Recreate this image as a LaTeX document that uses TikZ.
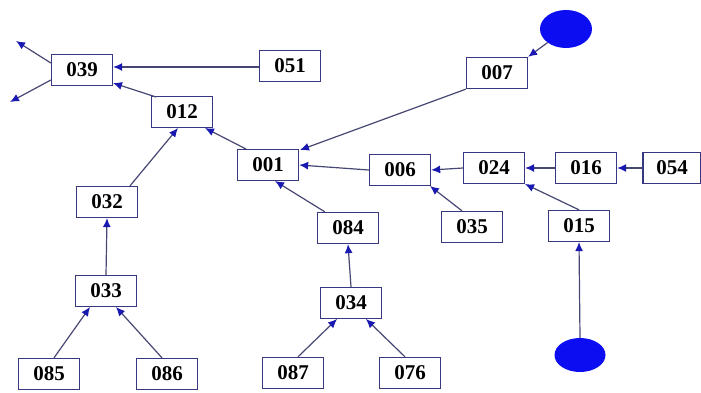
\documentclass[tikz,border=0pt]{standalone}
\usepackage{fontspec}
\setmainfont{Liberation Serif}
\usetikzlibrary{arrows.meta,shapes.geometric}
\definecolor{edgec}{rgb}{0.28,0.28,0.45}
\definecolor{boxc}{rgb}{0.22,0.22,0.5}
\definecolor{tipc}{rgb}{0.1,0.1,0.7}
\definecolor{blobc}{rgb}{0.05,0.05,0.95}
\tikzset{
  bx/.style={draw=boxc, line width=1.3pt, fill=white, minimum width=61pt, minimum height=31pt,
    inner sep=0pt, font=\fontsize{21}{24}\selectfont\bfseries},
  blob/.style={ellipse, fill=blobc, draw=none},
  ar/.style={draw=edgec, line width=1.2pt, -{Latex[length=9pt,width=8pt,color=tipc]}},
}
\begin{document}
\begin{tikzpicture}[x=1pt,y=-1pt]
\useasboundingbox (0,0) rectangle (701,393);
\fill[white] (0,0) rectangle (701,393);
\node[bx] (n039) at (82,70) {039};
\node[bx] (n051) at (290,66) {051};
\node[bx] (n012) at (182,112) {012};
\node[bx] (n001) at (268,165) {001};
\node[bx] (n007) at (497,73) {007};
\node[blob, minimum width=52pt, minimum height=38pt] (et) at (566,29) {};
\node[bx] (n006) at (400,170) {006};
\node[bx] (n024) at (494,168) {024};
\node[bx] (n016) at (586,168) {016};
\node[bx, minimum width=58pt] (n054) at (672,168) {054};
\node[bx] (n035) at (472,227) {035};
\node[bx] (n015) at (579,226) {015};
\node[blob, minimum width=51pt, minimum height=34pt] (eb) at (580,355) {};
\node[bx] (n084) at (348,228) {084};
\node[bx] (n032) at (107,202) {032};
\node[bx] (n033) at (106,291) {033};
\node[bx] (n034) at (351,303) {034};
\node[bx] (n085) at (49,374) {085};
\node[bx] (n086) at (167,374) {086};
\node[bx] (n087) at (293,373) {087};
\node[bx] (n076) at (410,373) {076};
\coordinate (f1) at (16,41);
\coordinate (f2) at (10,102);
\draw[ar] (n039.west |- 0,63) -- (f1);
\draw[ar] (n039.west |- 0,80) -- (f2);
\draw[ar] (n051.west |- 0,67) -- (n039.east |- 0,67);
\draw[ar] (156,97) -- (113,83);
\draw[ar] (n001) ++(-22,-16) coordinate (a1) -- (205,128);
\draw[ar] (n032.north -| 130,0) -- (178,128);
\draw[ar] (n007.south west) -- (300,150);
\draw[ar] (et) -- (n007.north east);
\draw[ar] (n006.west) -- (n001.east);
\draw[ar] (n084.north west) ++(8,0) -- (275,181);
\draw[ar] (n024.west) -- (n006.east);
\draw[ar] (n016.west) -- (n024.east);
\draw[ar] (n054.west) -- (n016.east);
\draw[ar] (n035.north) ++(-10,0) -- (430,186);
\draw[ar] (n015.north) -- (525,184);
\draw[ar] (eb.north) -- (n015.south);
\draw[ar] (n033.north) -- (n032.south);
\draw[ar] (n034.north) -- (n084.south);
\draw[ar] (n085.north) ++(5,0) -- (90,307);
\draw[ar] (n086.north) ++(-5,0) -- (116,307);
\draw[ar] (n087.north) ++(5,0) -- (337,319);
\draw[ar] (n076.north) ++(-5,0) -- (366,319);
\end{tikzpicture}
\end{document}
